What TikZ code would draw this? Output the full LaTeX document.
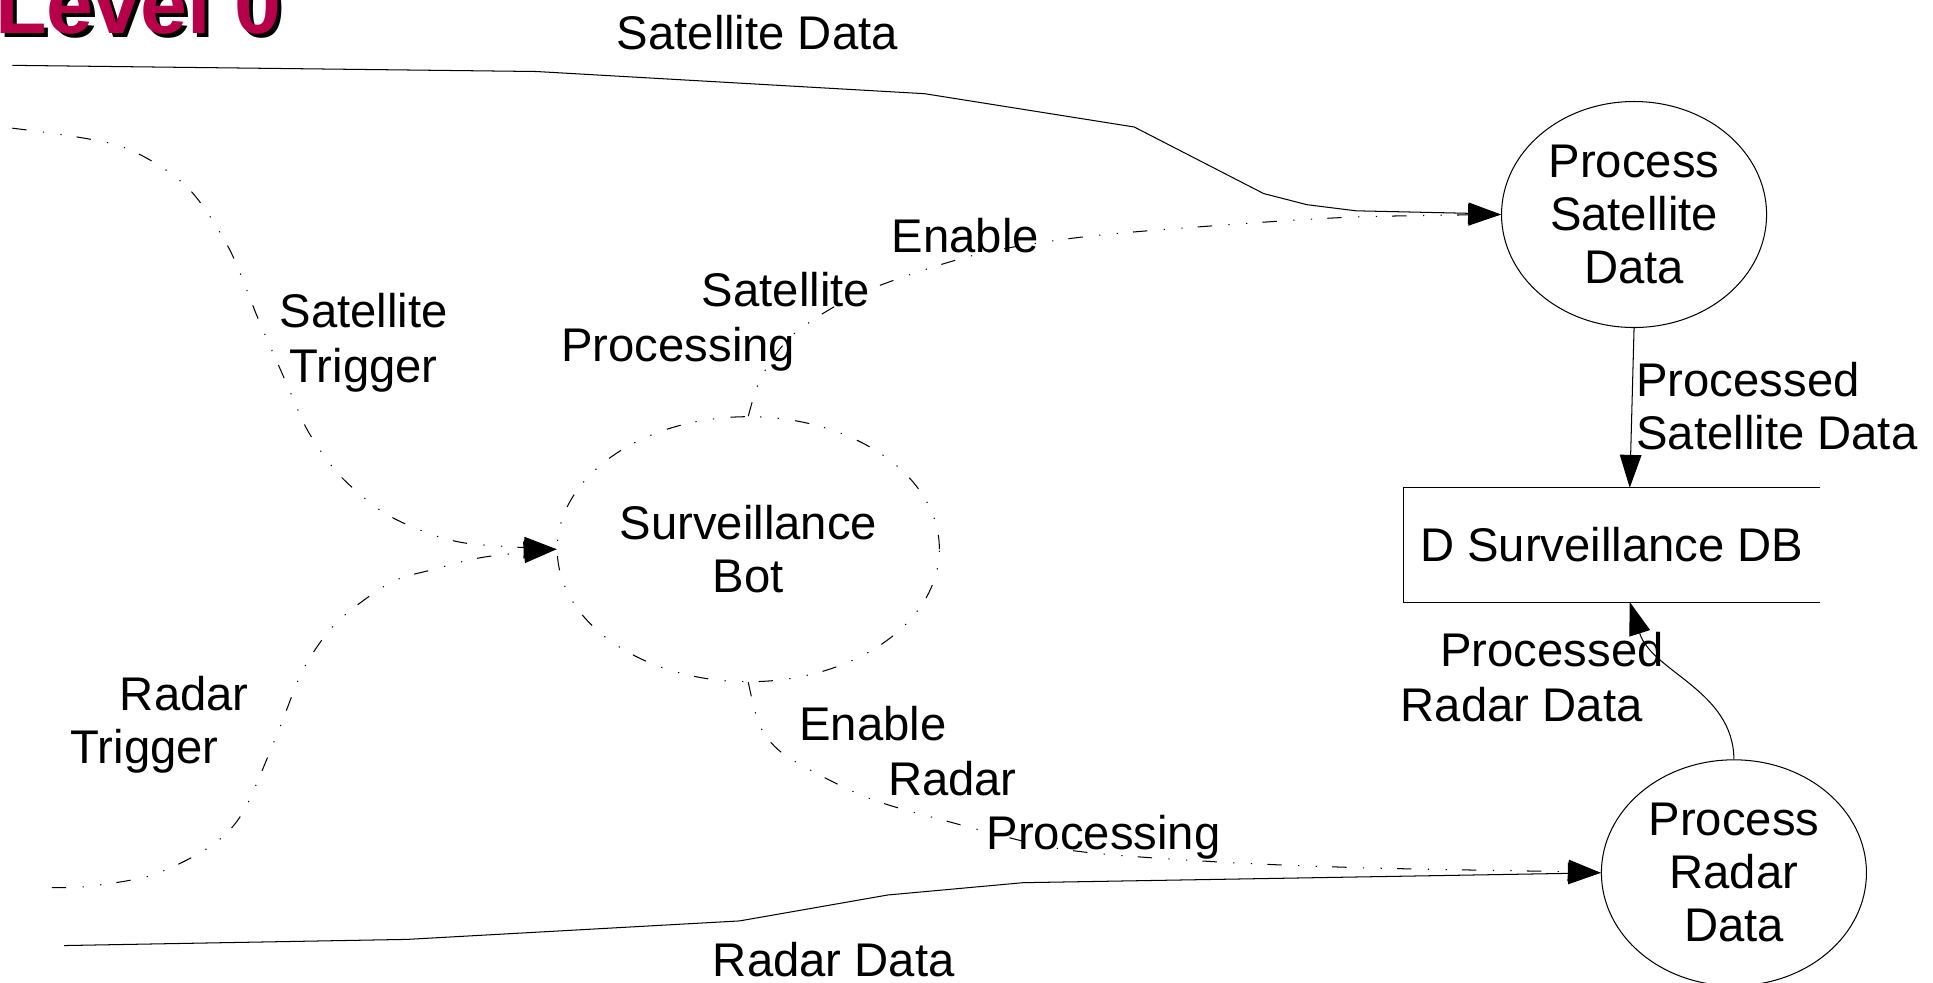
\documentclass[tikz,border=0pt]{standalone}
\usepackage{fontspec}
\setmainfont{Liberation Sans}
\usetikzlibrary{arrows.meta,shapes.geometric,positioning}

\definecolor{levelred}{RGB}{184,0,74}
\newcommand{\shadowtitle}[1]{\rlap{\hspace{2pt}\raisebox{-2pt}{\color{black}#1}}\textcolor{levelred}{#1}}

\begin{document}
\begin{tikzpicture}[x=0.6pt, y=-0.6pt, font=\fontsize{23}{25.8}\selectfont]

	\useasboundingbox (0,0) rectangle (1568,797);

	% Define custom styles for processes, store and flows
	\tikzstyle{process} = [ellipse, draw, line width=0.5pt, align=center, inner sep=0pt,
	minimum width=129pt, minimum height=110pt]
	\tikzstyle{dashdot} = [line width=0.5pt, dash pattern=on 7pt off 8pt on 0.6pt off 8pt on 0.6pt off 7.4pt]
	\tikzstyle{botproc} = [ellipse, draw, dashdot, align=center, inner sep=0pt,
	minimum width=186pt, minimum height=129pt]
	\tikzstyle{store} = [rectangle, inner sep=0pt, minimum width=202.2pt, minimum height=55.2pt]
	\tikzstyle{dataflow} = [line width=0.5pt, -{Triangle[length=16pt,width=10.5pt]}]
	\tikzstyle{ctrlflow} = [dashdot, -{Triangle[length=16pt,width=10.5pt]}]
	\tikzstyle{txt} = [anchor=base west, inner sep=0pt]
	\tikzstyle{ctxt} = [anchor=base, inner sep=0pt]

	% Title
	\node[txt, font=\fontsize{41}{48}\selectfont\bfseries] (title) at (-4,27) {\shadowtitle{Level 0}};

	% Processes and data store
	\node[botproc] (bot) at (607,445.5) {Surveillance\\Bot};
	\node[process] (procsat) at (1325.5,174) {Process\\Satellite\\Data};
	\node[process] (procradar) at (1406.5,708) {Process\\Radar\\Data};
	\node[store] (survdb) at (1307.5,442) {D Surveillance DB};
	\draw[line width=0.5pt] (survdb.north east) -- (survdb.north west) -- (survdb.south west) -- (survdb.south east);

	% Free ends of the incoming flows
	\coordinate (satsrc) at (10,53);
	\coordinate (sattrig) at (10,104);
	\coordinate (radtrig) at (42,720);
	\coordinate (radsrc) at (52,767);

	% Data flows
	\draw[dataflow] (satsrc) -- (435,58) -- (750,76) -- (920,103) -- (1025,157) -- (1060,166)
	-- (1100,171) -- (1190,173) -- (procsat.west);
	\draw[dataflow] (radsrc) -- (330,762) -- (600,747) -- (720,726) -- (830,716) -- (procradar.west);
	\draw[dataflow] (procsat.south) -- ([xshift=8.7pt]survdb.north);
	\draw[dataflow] (procradar.north) .. controls (1406,560) and (1340,545) .. ([xshift=8.7pt]survdb.south);

	% Control flows
	\draw[ctrlflow] plot[smooth] coordinates {(sattrig) (96,118) (150,150) (185,200) (210,260) (232,310)
	(250,350) (275,385) (310,415) (346,432) (381,441) (bot.west)};
	\draw[ctrlflow] plot[smooth] coordinates {(radtrig) (71,719) (123,710) (170,687) (197,659) (225,595)
	(246,543) (273,505) (316,473) (351,462) (392,452) (bot.west)};
	\draw[ctrlflow] plot[smooth] coordinates {(bot.north) (618,305) (645,270) (700,237) (790,207)
	(880,192) (1000,182) (1100,176) (procsat.west)};
	\draw[ctrlflow] plot[smooth] coordinates {(bot.south) (617,590) (639,614) (701,646) (764,665)
	(863,689) (985,699) (1109,704) (1266,707) (procradar.west)};

	% Flow labels
	\node[txt] (satdatatxt) at (500,40) {Satellite Data};
	\node[txt] (raddatatxt) at (578,792) {Radar Data};
	\node[ctxt] (sattrigtxta) at (295,266) {Satellite};
	\node[ctxt] (sattrigtxtb) at (295,310) {Trigger};
	\node[txt] (radtrigtxta) at (97,576) {Radar};
	\node[txt] (radtrigtxtb) at (57,619) {Trigger};
	\node[txt] (ensattxta) at (723,205) {Enable};
	\node[txt] (ensattxtb) at (569,249) {Satellite};
	\node[txt] (ensattxtc) at (455,293) {Processing};
	\node[txt] (enradtxta) at (648,601) {Enable};
	\node[txt] (enradtxtb) at (720,645) {Radar};
	\node[txt] (enradtxtc) at (800,689) {Processing};
	\node[txt] (prsattxta) at (1327,322) {Processed};
	\node[txt] (prsattxtb) at (1327,365) {Satellite Data};
	\node[txt] (prradtxta) at (1168,541) {Processed};
	\node[txt] (prradtxtb) at (1136,585) {Radar Data};

\end{tikzpicture}
\end{document}
